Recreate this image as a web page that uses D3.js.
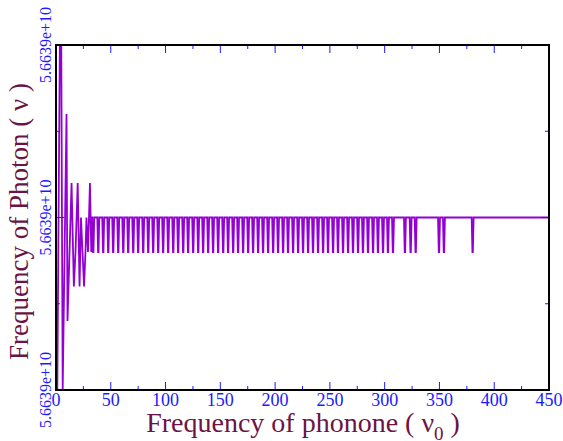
<!DOCTYPE html>
<html>
<head>
<meta charset="utf-8">
<script src="https://cdn.jsdelivr.net/npm/d3@7"></script>
<style>
    body { margin: 0; background: #fff; }
</style>
</head>
<body>
<div id="chart"></div>
<script>
// photon frequency stays at 5.6639e+10, the plot only shows round-off wiggles
const BASE = 56639000000;

// start of the curve (phonon freq, offset from BASE)
const transientX = [1.2, 3.5, 4.8, 6.1, 9.6, 10.5, 14.2, 16.3, 17.8, 19.8, 21.5, 22.8,
    25.6, 26.9, 27.8, 29.2, 30.1, 31.0, 32.2, 32.9];
const transientY = [-1, 1, 1, -1, 0.6, -0.6, 0.2, -0.4, -0.2, 0.2, -0.4, 0,
    -0.4, -0.2, 0, -0.2, 0, 0.2, -0.2, 0];

// where the curve drops to the lower level after that
const dipCenters = [34.0, 38.6, 43.1, 47.7, 52.2, 56.8, 61.4, 65.9, 70.5, 75.0, 79.6, 84.2,
    88.7, 93.3, 97.8, 102.4, 107.0, 111.5, 116.1, 120.6, 125.2, 129.8, 134.3, 138.9,
    143.4, 148.0, 152.6, 157.1, 161.7, 166.2, 170.8, 175.4, 179.9, 184.5, 189.0, 193.6,
    198.2, 202.7, 207.3, 211.8, 216.4, 221.0, 225.5, 230.1, 234.6, 239.2, 243.8, 248.3,
    252.9, 257.4, 262.0, 266.6, 271.1, 275.7, 280.2, 284.8, 289.4, 293.9, 298.5, 303.0,
    307.6, 318.5, 323.7, 328.3, 349.6, 354.1, 380.3];
const dipLevel = -0.2;
const endX = 450;

const xTicks = [0, 50, 100, 150, 200, 250, 300, 350, 400, 450];
const xMinorTicks = [25, 75, 125, 175, 225, 275, 325, 375, 425];
const yTicks = [-1, 0, 1];
const yMinorTicks = [-0.5, 0.5];

const width = 563, height = 441;
const margin = { top: 45, right: 14, bottom: 51, left: 56 };
const innerW = width - margin.left - margin.right;
const innerH = height - margin.top - margin.bottom;

const font = '"Liberation Serif", "DejaVu Serif", serif';
const labelColor = '#6b1445';
const tickColor = '#1a1aff';
const lineColor = '#9400d3';

// build the polyline
const points = transientX.map((x, i) => [x, transientY[i]]);
dipCenters.forEach(c => {
    points.push([c - 0.9, 0], [c - 0.2, dipLevel], [c + 0.2, dipLevel], [c + 0.9, 0]);
});
points.push([endX, 0]);

const x = d3.scaleLinear().domain([0, 450]).range([0, innerW]);
const y = d3.scaleLinear().domain([-1, 1]).range([innerH, 0]);
const fmt = v => d3.format('.4e')(BASE + v);

const svg = d3.select('#chart')
    .append('svg')
    .attr('width', width)
    .attr('height', height)
    .attr('font-family', font);

const g = svg.append('g')
    .attr('transform', `translate(${margin.left},${margin.top})`);

g.append('defs').append('clipPath').attr('id', 'clip')
    .append('rect').attr('width', innerW).attr('height', innerH);

// data line
g.append('path')
    .datum(points)
    .attr('clip-path', 'url(#clip)')
    .attr('fill', 'none')
    .attr('stroke', lineColor)
    .attr('stroke-width', 1.8)
    .attr('d', d3.line().x(d => x(d[0])).y(d => y(d[1])));

// ticks, all pointing inward
const ticks = g.append('g')
    .attr('stroke', tickColor)
    .attr('stroke-width', 1);

const addX = (vals, len) => {
    vals.forEach(v => {
        ticks.append('line').attr('x1', x(v)).attr('x2', x(v)).attr('y1', innerH).attr('y2', innerH - len);
        ticks.append('line').attr('x1', x(v)).attr('x2', x(v)).attr('y1', 0).attr('y2', len);
    });
};
const addY = (vals, len) => {
    vals.forEach(v => {
        ticks.append('line').attr('y1', y(v)).attr('y2', y(v)).attr('x1', 0).attr('x2', len);
        ticks.append('line').attr('y1', y(v)).attr('y2', y(v)).attr('x1', innerW).attr('x2', innerW - len);
    });
};
addX(xTicks, 8);
addX(xMinorTicks, 4);
addY(yTicks, 8);
addY(yMinorTicks, 4);

// frame
g.append('rect')
    .attr('width', innerW)
    .attr('height', innerH)
    .attr('fill', 'none')
    .attr('stroke', '#000')
    .attr('stroke-width', 2);

// tick labels
g.append('g')
    .selectAll('text')
    .data(xTicks)
    .join('text')
    .attr('x', d => x(d))
    .attr('y', innerH + 16)
    .attr('text-anchor', 'middle')
    .attr('fill', tickColor)
    .attr('font-size', 18)
    .text(d => d);

g.append('g')
    .selectAll('text')
    .data(yTicks)
    .join('text')
    .attr('transform', d => `translate(-5,${y(d)}) rotate(-90)`)
    .attr('text-anchor', 'middle')
    .attr('fill', tickColor)
    .attr('font-size', 16)
    .text(fmt);

// axis titles
const xTitle = svg.append('text')
    .attr('x', 303)
    .attr('y', 432)
    .attr('text-anchor', 'middle')
    .attr('fill', labelColor)
    .attr('font-size', 28);
xTitle.append('tspan').text('Frequency of phonone ( \u03bd');
xTitle.append('tspan').attr('font-size', 19).attr('dy', 8).text('0');
xTitle.append('tspan').attr('dy', -8).text(' )');

svg.append('text')
    .attr('transform', `translate(28,${margin.top + innerH / 2 + 4}) rotate(-90)`)
    .attr('text-anchor', 'middle')
    .attr('fill', labelColor)
    .attr('font-size', 27)
    .text('Frequency of Photon ( \u03bd )');
</script>
</body>
</html>
